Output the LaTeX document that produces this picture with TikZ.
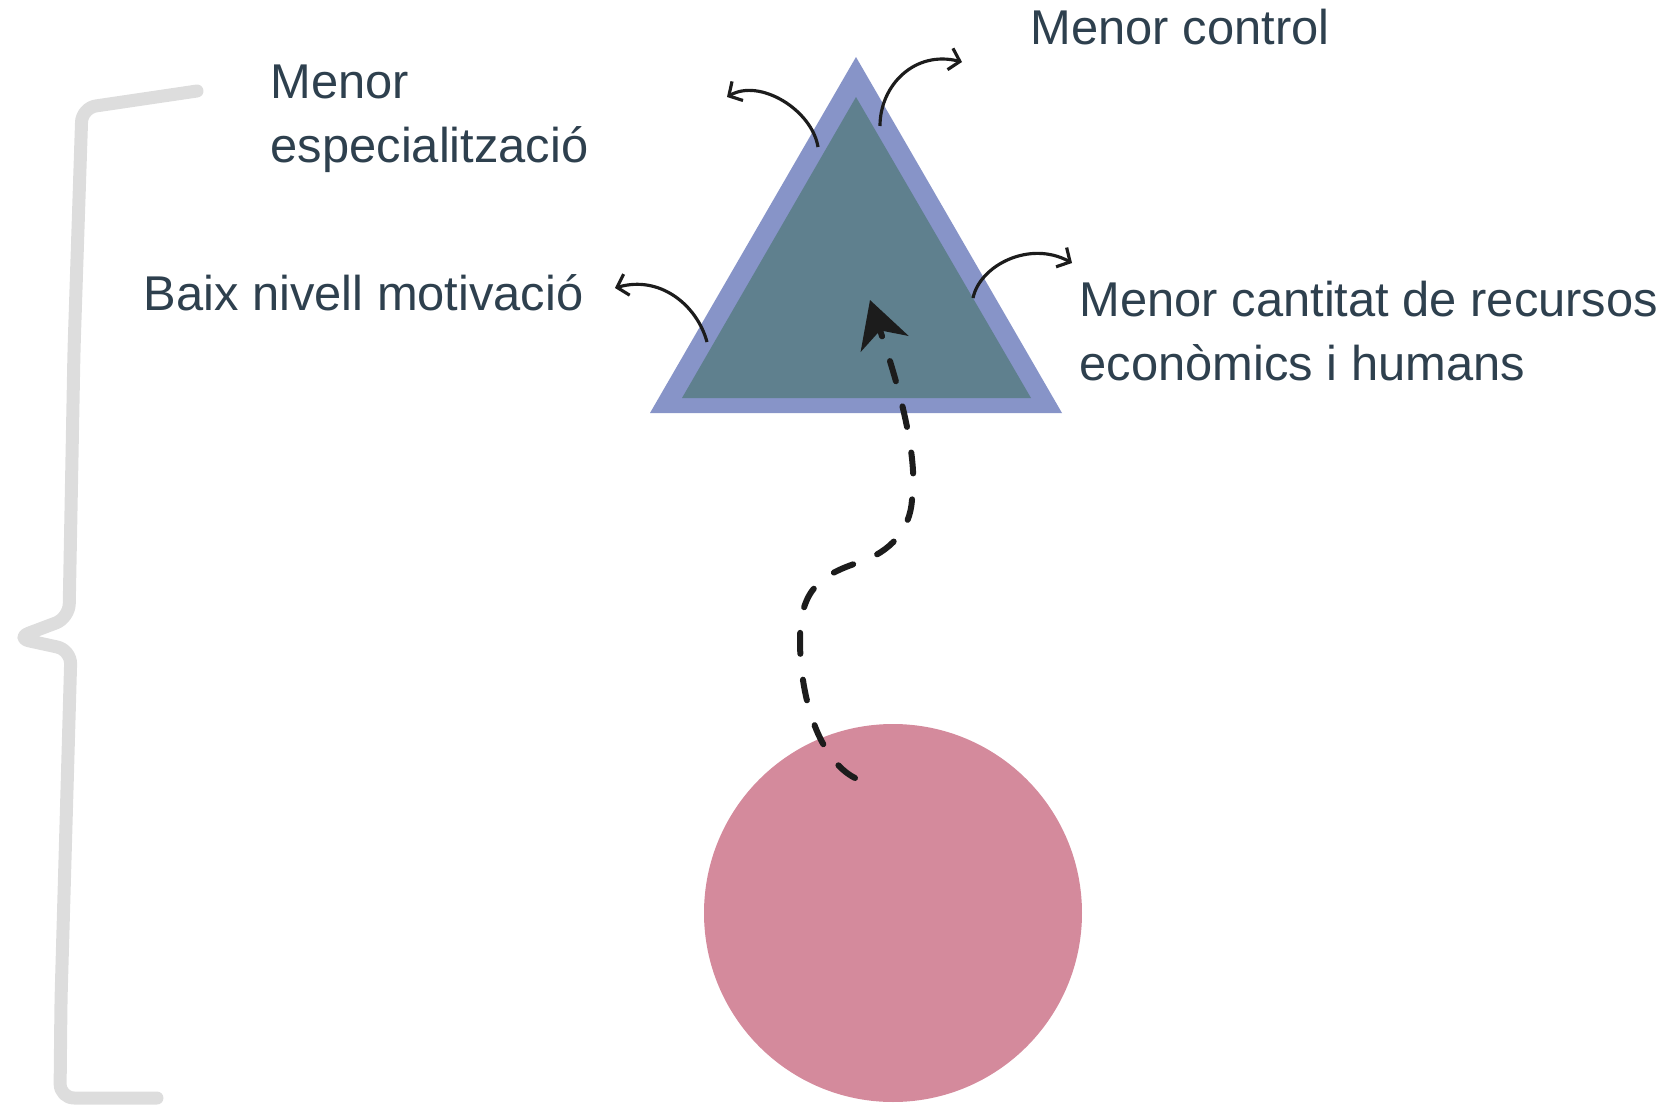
\documentclass[tikz,border=0pt]{standalone}
\usepackage{fontspec}
\setmainfont{Liberation Sans}
\usetikzlibrary{arrows.meta}
\definecolor{textfosc}{HTML}{2E404E}
\definecolor{vora}{HTML}{8794C8}
\definecolor{piramide}{HTML}{5F808E}
\definecolor{rosa}{HTML}{D48A9C}
\definecolor{clau}{HTML}{DDDDDD}
\definecolor{tinta}{HTML}{1C1C1C}
\tikzset{
  etiqueta/.style={anchor=base west,inner sep=0pt,text=textfosc,align=left,
    font=\fontsize{13.9}{18.2}\selectfont},
  fletxa/.style={draw=tinta,line width=0.9pt,-{Straight Barb[length=1mm,width=2.2mm]}},
  cami/.style={draw=tinta,line width=0.6mm,line cap=round,dash pattern=on 2.1mm off 2.6mm,
    -{Stealth[length=4.6mm,width=5mm,inset=1.4mm]}}
}
\begin{document}
\begin{tikzpicture}[x=0.1mm,y=-0.1mm]
\useasboundingbox (0,0) rectangle (1677,1110);
% clau esquerra
\draw[clau,line width=1.3mm,line cap=round,line join=round,rounded corners=4pt]
  (197,91) -- (82,108) -- (74,350) -- (69,618) -- (16,638) -- (71,650) -- (61,1000) -- (60,1098) -- (157,1098);
% piramide
\fill[vora] (856,57) -- (1062,413) -- (650,413) -- cycle;
\fill[piramide] (856,97) -- (1031,398) -- (682,398) -- cycle;
\coordinate (espec) at (818,147);
\coordinate (control) at (880,126);
\coordinate (recursos) at (973,298);
\coordinate (motiv) at (707,342);
% cercle
\node[circle,fill=rosa,minimum size=37.8mm,inner sep=0pt] (cercle) at (893,913) {};
% textos
\node[etiqueta] (tcontrol) at (1030,44) {Menor control};
\node[etiqueta] (tespec) at (270,162) {Menor\\especialització};
\node[etiqueta] (tmotiv) at (143,310) {Baix nivell motivació};
\node[etiqueta] (trecursos) at (1079,380) {Menor cantitat de recursos\\econòmics i humans};
% fletxes petites
\coordinate (fespec) at (727,97);
\coordinate (fcontrol) at (962,62);
\coordinate (frecursos) at (1072,263);
\coordinate (fmotiv) at (615,288);
\draw[fletxa] (espec) .. controls (812,110) and (760,78) .. (fespec);
\draw[fletxa] (control) .. controls (880,85) and (915,50) .. (fcontrol);
\draw[fletxa] (recursos) .. controls (980,265) and (1030,240) .. (frecursos);
\draw[fletxa] (motiv) .. controls (697,305) and (660,275) .. (fmotiv);
% cami discontinu
\coordinate (inici) at (855,778);
\coordinate (punta) at (870,300);
\draw[cami] (inici) .. controls (820,760) and (800,700) .. (800,640)
  .. controls (800,590) and (820,575) .. (860,562)
  .. controls (890,552) and (910,530) .. (912,500)
  .. controls (920,450) and (890,360) .. (punta);
\end{tikzpicture}
\end{document}
